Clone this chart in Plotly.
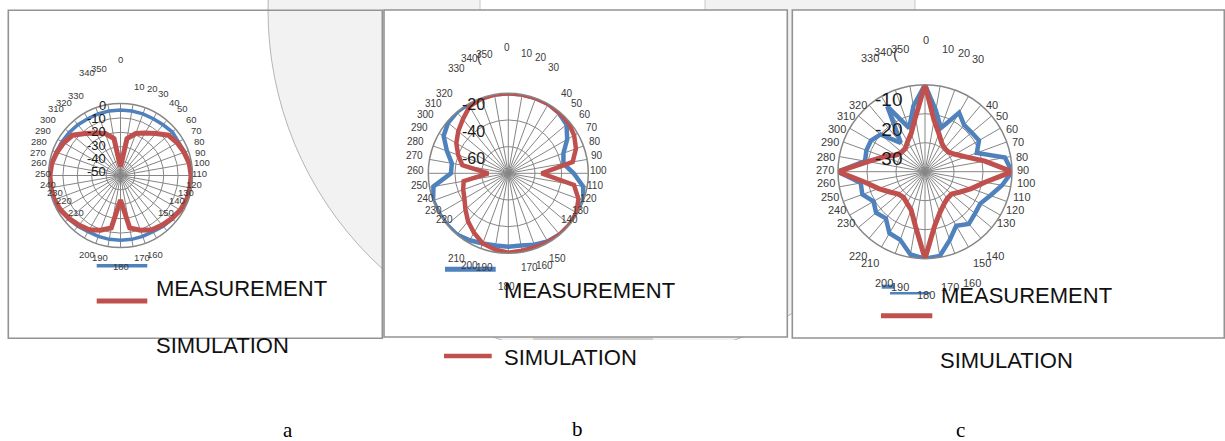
import plotly.graph_objects as go

W, H = 1225, 441

# ---------------- data ----------------
angles = list(range(0, 360, 10))
angle_labels = [str(a) for a in angles]

a_measurement = [-4.5, -4.5, -4.5, -4.5, -4, -3, -3.5, -2.5, -1.5, -1, -1, -1,
                 -2, -3, -4, -5, -5, -5, -5, -5, -5, -5, -4, -3,
                 -2, -1, -1, -1, -1.5, -2.5, -3, -3.5, -4, -4.5, -4.5, -4.5]
a_simulation = [-44, -24, -19, -16, -12, -6.5, -4.5, -3, -1.5, -1, -1, -1,
                -2, -3.5, -5, -6.5, -9.5, -13, -33, -13, -9.5, -6.5, -5, -3.5,
                -2, -1, -1, -1, -1.5, -3, -4.5, -6.5, -12, -16, -19, -24]

b_measurement = [-20, -20, -20, -20, -21, -23, -29, -36, -38, -31, -23, -20,
                 -20, -20, -20, -21, -23, -25, -25, -25, -24, -22, -20, -20,
                 -20, -20, -23, -37, -37, -31, -24, -21, -20, -20, -20, -20]
b_simulation = [-20, -20, -20, -20, -20.5, -21, -23, -26, -31, -55, -30, -24,
                -21, -20, -20, -20.5, -21, -21, -20.5, -22, -24, -28.5, -33, -38,
                -42, -44, -46, -65, -45, -40, -35, -31, -27, -22, -20.5, -20]

c_measurement = [-10, -18.5, -24, -16.5, -19, -19, -18.5, -21, -12, -10, -13, -16,
                 -18, -17.5, -16.5, -18.5, -15, -10.5, -10, -11, -15, -15.5, -19, -18,
                 -19.5, -17, -17.5, -10, -19, -18.5, -18.5, -20, -27, -14, -24, -17]
c_simulation = [-10, -22, -26, -28.5, -29.5, -29.5, -28, -25, -19, -10, -19, -23,
                -26, -28, -28, -27, -25, -21, -10, -21, -26, -27.5, -28.5, -28,
                -26, -23, -19, -10, -20, -25, -28.5, -29.5, -29.5, -28, -26, -21]

a_radial_ticks = [0, -10, -20, -30, -40, -50]
b_radial_ticks = [-20, -40, -60]
c_radial_ticks = [-10, -20, -30]

series_names = ["MEASUREMENT", "SIMULATION"]
captions = ["a", "b", "c"]

# ---------------- styles / positions (pixels) ----------------
BLUE = "#4F81BD"
RED = "#C0504D"
GRID = "#868686"
FRAME = "#939393"

def px(x):
    return x / W

def py(y):
    return 1 - y / H

panels = [
    dict(meas=a_measurement, sim=a_simulation, center=(120.5, 175.5), R=72,
         rng=[-50, 0], grid=[-40, -30, -20, -10], wb=3.5, wr=5),
    dict(meas=b_measurement, sim=b_simulation, center=(508.3, 173.3), R=80,
         rng=[-80, -20], grid=[-60, -40], wb=4.5, wr=4.5),
    dict(meas=c_measurement, sim=c_simulation, center=(925, 171.7), R=87,
         rng=[-40, -10], grid=[-30, -20], wb=4.5, wr=5),
]

fig = go.Figure()
layout_polars = {}
for i, p in enumerate(panels):
    sub = "polar" if i == 0 else f"polar{i+1}"
    th = angles + [angles[0]]
    fig.add_trace(go.Scatterpolar(r=p["meas"] + [p["meas"][0]], theta=th, mode="lines",
                                  line=dict(color=BLUE, width=p["wb"]), name=series_names[0],
                                  subplot=sub, showlegend=False))
    fig.add_trace(go.Scatterpolar(r=p["sim"] + [p["sim"][0]], theta=th, mode="lines",
                                  line=dict(color=RED, width=p["wr"]), name=series_names[1],
                                  subplot=sub, showlegend=False))
    cx, cy = p["center"]
    R = p["R"]
    layout_polars[sub] = dict(
        domain=dict(x=[px(cx - R), px(cx + R)], y=[py(cy + R), py(cy - R)]),
        bgcolor="white",
        angularaxis=dict(rotation=90, direction="clockwise", tickmode="linear", tick0=0, dtick=10,
                         showticklabels=False, ticks="", gridcolor=GRID, gridwidth=1,
                         showline=True, linecolor=GRID, linewidth=1.5),
        radialaxis=dict(range=p["rng"], tickvals=p["grid"], showticklabels=False, ticks="",
                        showline=False, gridcolor=GRID, gridwidth=1),
    )

# angular label positions (pixels), same order as angles
a_lab_xy = [(120.7, 59), (139.3, 86), (152, 88.7), (163.3, 93.7), (174, 102.7), (183, 108.7),
            (191, 119.3), (196.3, 130.7), (199.7, 141.7), (200.3, 152.7), (202.3, 162.7), (199, 173.7),
            (194, 184.3), (186, 192.7), (176.7, 200.7), (165.7, 212.3), (155, 254.7), (141.7, 257.7),
            (120.7, 266.7), (100, 257.7), (86.7, 254.7), (75.7, 212.3), (64.3, 200.7), (55.3, 192.7),
            (47.7, 184.3), (42.7, 173.7), (39, 162.7), (37.7, 152.7), (39.3, 141.7), (42.7, 130.7),
            (47.7, 119.3), (55.7, 108.7), (64.3, 102.7), (75.7, 95.7), (86.7, 72.7), (99.3, 69)]
b_lab_xy = [(506.7, 47.7), (526.7, 53.3), (541, 57.3), (554.3, 67.7), (566.7, 93.7), (576.7, 103.7),
            (585.3, 114.7), (591.7, 127.7), (595, 141.7), (596.7, 155.7), (598.3, 170.7), (595, 185.7),
            (588.3, 198.7), (580, 210.3), (569.3, 219.3), (557.3, 258.7), (544, 265.7), (529, 267.7),
            (506.7, 286.7), (484.3, 267.7), (469.3, 265.7), (456.7, 258.7), (444.3, 219.3), (433.7, 210.3),
            (425.7, 198.7), (419, 185.7), (415.3, 170.7), (414, 155.7), (415.3, 141.7), (419, 127.7),
            (425.3, 114.7), (433.7, 103.7), (444.3, 93.7), (456.7, 68.7), (469.3, 58.3), (484.3, 54.3)]
c_lab_xy = [(925.7, 40), (948.3, 49), (964, 52.7), (978.3, 59), (991.7, 105), (1002.3, 116),
            (1011.7, 128.7), (1018.3, 141.7), (1022.3, 156.7), (1023.3, 170), (1025.7, 182.7), (1021.7, 196.7),
            (1015, 209.7), (1005.7, 222.7), (995, 256), (981.7, 263.3), (972.3, 283.3), (950, 287.3),
            (925.7, 295), (900, 287.3), (884.3, 283.3), (870, 263.3), (857.7, 256), (846, 222.7),
            (836.7, 209.7), (830, 196.7), (826, 182.7), (825, 170), (826, 156.7), (830, 141.7),
            (836.7, 128.7), (846, 116), (857.7, 105), (870, 58.3), (883.3, 52.3), (900, 49)]
ang_sizes = [9.5, 10, 11]

a_rad_xy = [(107.5, 105), (107.5, 118.3), (107.5, 131.7), (107.5, 145), (107.5, 158.3), (107.5, 171)]
b_rad_xy = [(487.3, 104.3), (487.3, 131.7), (487.3, 158.3)]
c_rad_xy = [(904.3, 100), (904.3, 129), (904.3, 158.3)]
rad_sizes = [13, 16, 19]

FONT = "Liberation Sans, Arial, sans-serif"
annotations = []
for labs_xy, size in zip([a_lab_xy, b_lab_xy, c_lab_xy], ang_sizes):
    for lab, (x, y) in zip(angle_labels, labs_xy):
        annotations.append(dict(x=px(x), y=py(y), text=lab, showarrow=False, xref="paper", yref="paper",
                                xanchor="center", yanchor="middle",
                                font=dict(family=FONT, size=size, color="#3a3a3a")))
for ticks, xy, size in zip([a_radial_ticks, b_radial_ticks, c_radial_ticks],
                           [a_rad_xy, b_rad_xy, c_rad_xy], rad_sizes):
    for t, (x, y) in zip(ticks, xy):
        annotations.append(dict(x=px(x), y=py(y), text=str(t), showarrow=False, xref="paper", yref="paper",
                                xanchor="right", yanchor="middle",
                                font=dict(family=FONT, size=size, color="#1a1a1a")))
# stray glyphs
for (x, y, s) in [(479.3, 56.7, 14), (895, 53.3, 15)]:
    annotations.append(dict(x=px(x), y=py(y), text="(", showarrow=False, xref="paper", yref="paper",
                            xanchor="center", yanchor="middle", font=dict(family=FONT, size=s, color="#404040")))

# legend texts
legend_text_xy = [[(154, 288.3), (154, 345)],
                  [(501.7, 290.7), (501.7, 357.7)],
                  [(939, 295), (938.3, 360)]]
for pair in legend_text_xy:
    for name, (x, y) in zip(series_names, pair):
        annotations.append(dict(x=px(x), y=py(y), text=name, showarrow=False, xref="paper", yref="paper",
                                xanchor="left", yanchor="middle",
                                font=dict(family=FONT, size=22, color="#111111")))
caption_xy = [(288.3, 430), (577.3, 429), (960.7, 430)]
for cap, (x, y) in zip(captions, caption_xy):
    annotations.append(dict(x=px(x), y=py(y), text=cap, showarrow=False, xref="paper", yref="paper",
                            xanchor="center", yanchor="middle",
                            font=dict(family="Liberation Serif, Times New Roman, serif", size=21, color="black")))

shapes = []
# background decorative circle
ccx, ccy, cr = 618, 10, 350
shapes.append(dict(type="circle", xref="paper", yref="paper", x0=px(ccx - cr), x1=px(ccx + cr),
                   y0=py(ccy + cr), y1=py(ccy - cr), fillcolor="#f2f2f2",
                   line=dict(color="#b5b5b5", width=1), layer="below"))
# white covers
for (x0, y0, x1, y1) in [(0, 340, W, H), (480, 0, 705, 10), (915, 0, W, 10)]:
    shapes.append(dict(type="rect", xref="paper", yref="paper", x0=px(x0), x1=px(x1), y0=py(y1), y1=py(y0),
                       fillcolor="white", line=dict(width=0), layer="below"))
for x in [480, 705, 915]:
    shapes.append(dict(type="line", xref="paper", yref="paper", x0=px(x), x1=px(x), y0=py(10), y1=py(0),
                       line=dict(color="#c8c8c8", width=1), layer="below"))
# smudge under panel b
shapes.append(dict(type="line", xref="paper", yref="paper", x0=px(533), x1=px(653), y0=py(339), y1=py(339),
                   line=dict(color="#d0d0d0", width=2), layer="below"))
# frames
frames = [((8.3, 10.3, 382.3, 338.3), None),
          ((384, 10, 787.3, 337), "white"),
          ((792.3, 10, 1224.3, 338), "white")]
for (x0, y0, x1, y1), fill in frames:
    shapes.append(dict(type="rect", xref="paper", yref="paper", x0=px(x0), x1=px(x1), y0=py(y1), y1=py(y0),
                       fillcolor=fill if fill else "rgba(0,0,0,0)", line=dict(color=FRAME, width=1.6),
                       layer="below"))
# legend line glyphs
legend_lines = [
    (96.7, 147.3, 265.7, BLUE, 3.5), (96.7, 147.3, 301, RED, 5),
    (445, 495.7, 269.3, BLUE, 5), (444, 491.7, 356, RED, 4.5),
    (881.7, 894.3, 286.7, BLUE, 4), (890, 930, 293.3, BLUE, 2.5), (881, 932.3, 315.7, RED, 5),
]
for x0, x1, y, col, w in legend_lines:
    shapes.append(dict(type="line", xref="paper", yref="paper", x0=px(x0), x1=px(x1), y0=py(y), y1=py(y),
                       line=dict(color=col, width=w)))

fig.update_layout(
    width=W, height=H, autosize=False,
    margin=dict(l=0, r=0, t=0, b=0),
    paper_bgcolor="white", plot_bgcolor="white",
    showlegend=False,
    annotations=annotations,
    shapes=shapes,
    **layout_polars,
)

fig.write_html("out.html", config={"displayModeBar": False},
               post_script="document.body.style.margin='0px';document.body.style.overflow='hidden';")
